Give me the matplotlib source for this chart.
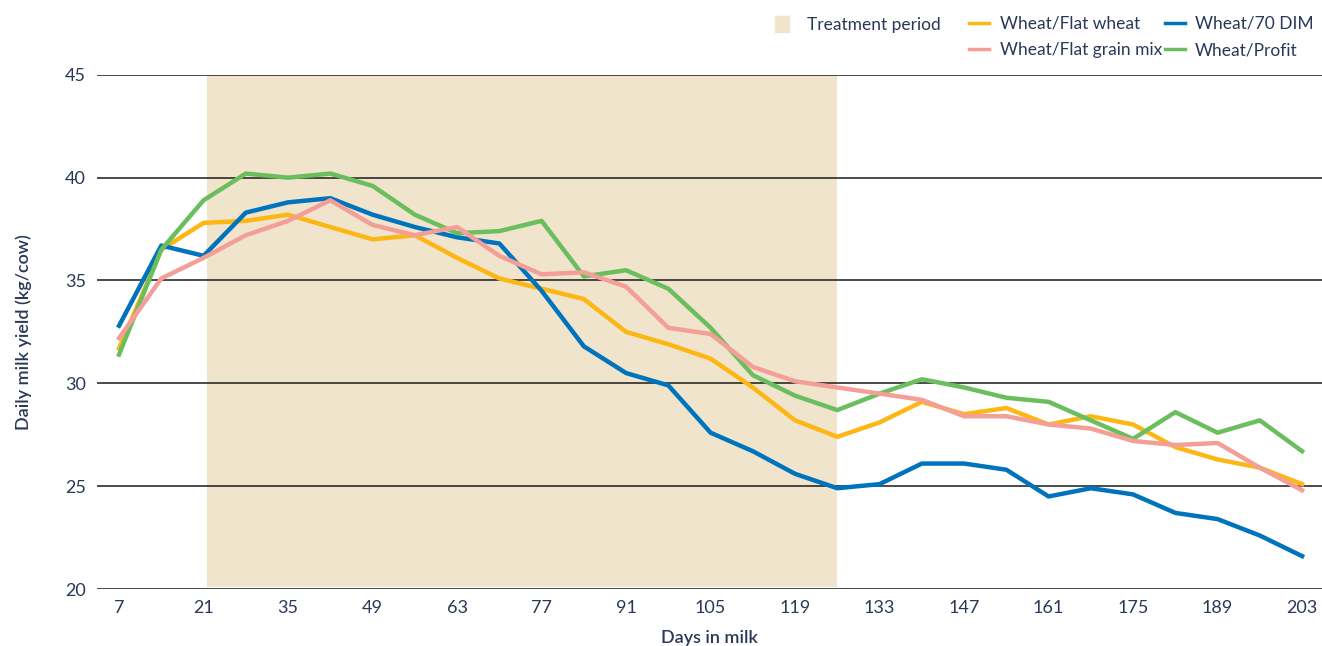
import matplotlib
matplotlib.use("Agg")
import matplotlib.pyplot as plt
from matplotlib.patches import Patch
from matplotlib.lines import Line2D

# days in milk, weekly
days = list(range(7, 204, 7))

flat_wheat = [31.7, 36.5, 37.8, 37.9, 38.2, 37.6, 37.0, 37.2, 36.1, 35.1,
              34.6, 34.1, 32.5, 31.9, 31.2, 29.8, 28.2, 27.4, 28.1, 29.1,
              28.5, 28.8, 28.0, 28.4, 28.0, 26.9, 26.3, 25.9, 25.1]
dim70 = [32.8, 36.7, 36.2, 38.3, 38.8, 39.0, 38.2, 37.6, 37.1, 36.8,
         34.5, 31.8, 30.5, 29.9, 27.6, 26.7, 25.6, 24.9, 25.1, 26.1,
         26.1, 25.8, 24.5, 24.9, 24.6, 23.7, 23.4, 22.6, 21.6]
flat_grain_mix = [32.2, 35.1, 36.1, 37.2, 37.9, 38.9, 37.7, 37.2, 37.6, 36.2,
                  35.3, 35.4, 34.7, 32.7, 32.4, 30.8, 30.1, 29.8, 29.5, 29.2,
                  28.4, 28.4, 28.0, 27.8, 27.2, 27.0, 27.1, 25.9, 24.8]
profit = [31.4, 36.5, 38.9, 40.2, 40.0, 40.2, 39.6, 38.2, 37.3, 37.4,
          37.9, 35.2, 35.5, 34.6, 32.7, 30.4, 29.4, 28.7, 29.5, 30.2,
          29.8, 29.3, 29.1, 28.2, 27.3, 28.6, 27.6, 28.2, 26.7]

treatment_start = 21.5
treatment_end = 126
xticks = list(range(7, 204, 14))
yticks = [20, 25, 30, 35, 40, 45]

c_yellow = "#FDB714"
c_blue = "#0073BD"
c_pink = "#F49E98"
c_green = "#6BBE5E"
c_beige = "#F0E4CC"
c_text = "#2A3857"

plt.rcParams["font.family"] = ["Lato", "DejaVu Sans"]

fig = plt.figure(figsize=(13.22, 6.46), dpi=100)
ax = fig.add_axes([0.0734, 0.0882, 0.9266, 0.796])

ax.fill_between([treatment_start, treatment_end], 20.12, 45, color=c_beige, lw=0, zorder=0)
for y in yticks:
    ax.axhline(y, color="#1a1a1a", lw=1.1, zorder=1)

lw = 3.2
ax.plot(days, flat_wheat, color=c_yellow, lw=lw, zorder=3)
ax.plot(days, dim70, color=c_blue, lw=lw, zorder=3)
ax.plot(days, flat_grain_mix, color=c_pink, lw=lw, zorder=4)
ax.plot(days, profit, color=c_green, lw=lw, zorder=3)

ax.set_xlim(3.35, 206.3)
ax.set_ylim(20, 45)
ax.set_xticks(xticks)
ax.set_yticks(yticks)
ax.tick_params(length=0, labelsize=13, colors=c_text, pad=8)
for s in ax.spines.values():
    s.set_visible(False)

ax.set_xlabel("Days in milk", fontsize=13, color=c_text, fontweight="semibold", labelpad=10)
ax.set_ylabel("Daily milk yield (kg/cow)", fontsize=13, color=c_text, fontweight="semibold", labelpad=24)

# legend: treatment patch on its own, then the four series in two columns
leg1 = fig.legend([Patch(color=c_beige)], ["Treatment period"], loc="upper left",
                  bbox_to_anchor=(0.5747, 0.999), frameon=False, fontsize=12.5,
                  handlelength=0.8, handleheight=1.0, handletextpad=1.0)
handles = [Line2D([], [], color=c_yellow, lw=2.5), Line2D([], [], color=c_pink, lw=2.5),
           Line2D([], [], color=c_blue, lw=2.5), Line2D([], [], color=c_green, lw=2.5)]
labels = ["Wheat/Flat wheat", "Wheat/Flat grain mix", "Wheat/70 DIM", "Wheat/Profit"]
leg2 = fig.legend(handles, labels, ncol=2, loc="upper left", bbox_to_anchor=(0.7215, 1.0),
                  frameon=False, fontsize=12.5, handlelength=1.15, handletextpad=0.6,
                  columnspacing=0.15, labelspacing=0.62)
for t in leg1.get_texts() + leg2.get_texts():
    t.set_color(c_text)

fig.savefig("out.png", dpi=100)
